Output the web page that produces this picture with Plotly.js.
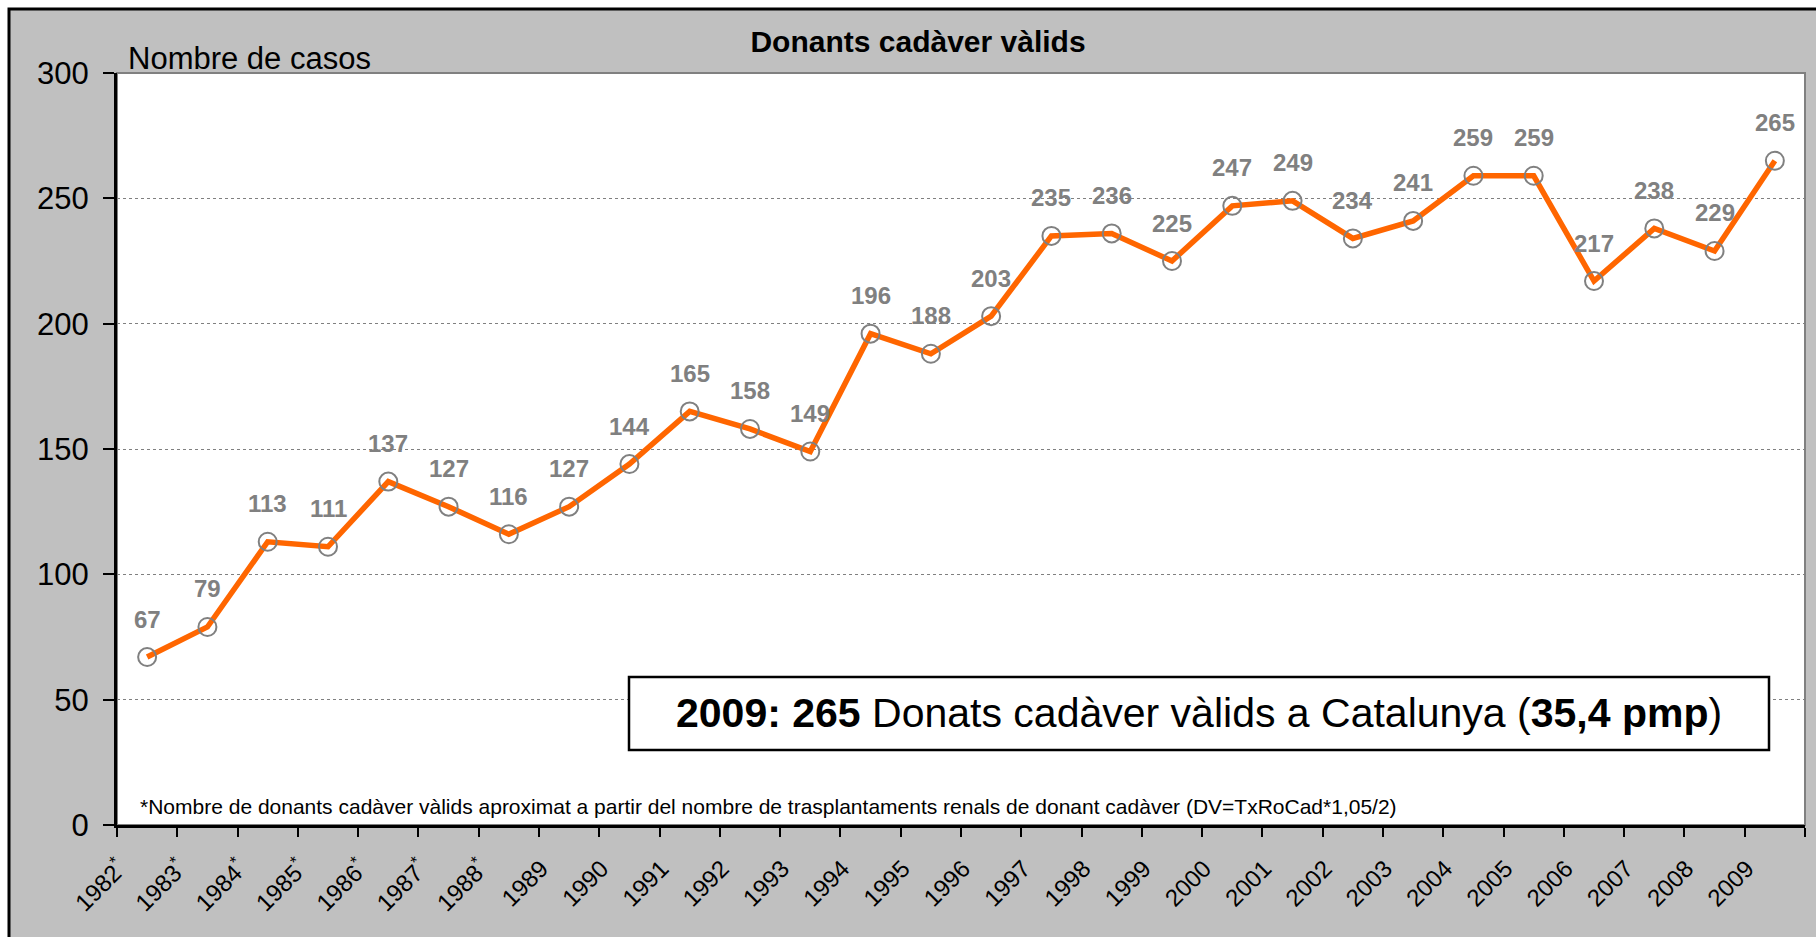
<!DOCTYPE html>
<html>
<head>
<meta charset="utf-8">
<script src="https://cdn.plot.ly/plotly-3.0.1.min.js"></script>
<style>html,body{margin:0;padding:0;background:#fff;}#chart{width:1816px;height:937px;}</style>
</head>
<body>
<div id="chart"></div>
<script>
var years = ['1982*','1983*','1984*','1985*','1986*','1987*','1988*','1989','1990','1991','1992','1993','1994','1995','1996','1997','1998','1999','2000','2001','2002','2003','2004','2005','2006','2007','2008','2009'];
var tickLabels = ['1982<sup>*</sup>','1983<sup>*</sup>','1984<sup>*</sup>','1985<sup>*</sup>','1986<sup>*</sup>','1987<sup>*</sup>','1988<sup>*</sup>','1989','1990','1991','1992','1993','1994','1995','1996','1997','1998','1999','2000','2001','2002','2003','2004','2005','2006','2007','2008','2009'];
var donors = [67,79,113,111,137,127,116,127,144,165,158,149,196,188,203,235,236,225,247,249,234,241,259,259,217,238,229,265];
var yTicks = [0,50,100,150,200,250,300];

var chartTitle = 'Donants cadàver vàlids';
var yLabel = 'Nombre de casos';
var boxText = '<b>2009: 265</b> Donats cadàver vàlids a Catalunya (<b>35,4 pmp</b>)';
var footnote = '*Nombre de donants cadàver vàlids aproximat a partir del nombre de trasplantaments renals de donant cadàver (DV=TxRoCad*1,05/2)';

var FIG_W = 1816, FIG_H = 937;
var L = 117, R = 1805, T = 73, B = 825;
var PW = R - L, PH = B - T;
function px2x(px){ return (px - L) / PW; }
function py2y(py){ return (B - py) / PH; }

var FONT = 'Liberation Sans, Arial, sans-serif';

var trace = {
  x: years,
  y: donors,
  type: 'scatter',
  mode: 'lines+markers',
  line: {color: '#FF6600', width: 5.5},
  marker: {symbol: 'circle-open', size: 18, color: '#808080', line: {width: 2, color: '#808080'}},
  hoverinfo: 'x+y',
  cliponaxis: false
};

var annotations = years.map(function(yr, i){
  return {x: i, y: donors[i], xref: 'x', yref: 'y', text: '<b>' + donors[i] + '</b>', showarrow: false,
    yshift: 38, xanchor: 'center', yanchor: 'middle',
    font: {family: FONT, size: 24, color: '#808080'}};
});

annotations.push({xref: 'paper', yref: 'paper', x: px2x(126), y: py2y(58), xanchor: 'left', yanchor: 'middle',
  text: yLabel, showarrow: false, font: {family: FONT, size: 31, color: '#000'}});
annotations.push({xref: 'paper', yref: 'paper', x: px2x(1199), y: py2y(713), xanchor: 'center', yanchor: 'middle',
  text: boxText, showarrow: false, font: {family: FONT, size: 41, color: '#000'}});
annotations.push({xref: 'paper', yref: 'paper', x: px2x(138), y: py2y(806), xanchor: 'left', yanchor: 'middle',
  text: footnote, showarrow: false, font: {family: FONT, size: 21, color: '#000'}});

var shapes = [
  {type: 'rect', xref: 'paper', yref: 'paper', x0: px2x(9), x1: px2x(1840), y0: py2y(9), y1: py2y(960),
   fillcolor: '#C0C0C0', line: {color: '#000', width: 3}, layer: 'below'},
  {type: 'rect', xref: 'paper', yref: 'paper', x0: 0, x1: 1, y0: 0, y1: 1,
   fillcolor: '#FFFFFF', line: {color: '#808080', width: 2}, layer: 'below'},
  {type: 'rect', xref: 'paper', yref: 'paper', x0: px2x(629), x1: px2x(1769), y0: py2y(677), y1: py2y(750),
   fillcolor: '#FFFFFF', line: {color: '#000', width: 2.5}, layer: 'above'}
];

var layout = {
  width: FIG_W, height: FIG_H,
  margin: {l: L, r: FIG_W - R, t: T, b: FIG_H - B, pad: 0},
  paper_bgcolor: '#FFFFFF',
  plot_bgcolor: '#FFFFFF',
  showlegend: false,
  font: {family: FONT, color: '#000'},
  title: {text: '<b>' + chartTitle + '</b>', x: 918 / FIG_W, xanchor: 'center', y: 1 - 41 / FIG_H, yanchor: 'middle',
    font: {family: FONT, size: 30, color: '#000'}},
  xaxis: {
    type: 'category',
    tickmode: 'array', tickvals: years, ticktext: tickLabels,
    tickson: 'boundaries', ticks: 'outside', ticklen: 9, tickwidth: 2, tickcolor: '#000',
    tickangle: -45, tickfont: {family: FONT, size: 24, color: '#000'},
    ticklabelstandoff: 17, ticklabelshift: -28,
    showline: true, linecolor: '#000', linewidth: 3,
    showgrid: false, zeroline: false, range: [-0.5, years.length - 0.5], fixedrange: true
  },
  yaxis: {
    range: [0, 300], tickmode: 'array', tickvals: yTicks,
    ticks: 'outside', ticklen: 11, tickwidth: 2, tickcolor: '#000',
    tickfont: {family: FONT, size: 31, color: '#000'},
    ticklabelstandoff: 8,
    showline: true, linecolor: '#000', linewidth: 3,
    showgrid: true, gridcolor: '#808080', gridwidth: 1, griddash: 'dot',
    zeroline: false, fixedrange: true
  },
  annotations: annotations,
  shapes: shapes
};

Plotly.newPlot('chart', [trace], layout, {displayModeBar: false, responsive: false});
</script>
</body>
</html>
